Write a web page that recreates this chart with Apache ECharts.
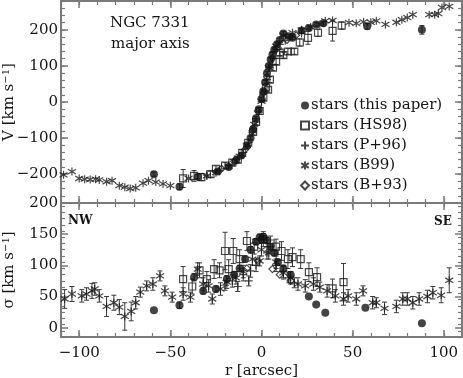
<!DOCTYPE html>
<html>
<head>
<meta charset="utf-8">
<script src="https://cdn.jsdelivr.net/npm/echarts@6/dist/echarts.min.js"></script>
<style>
  html, body { margin: 0; padding: 0; background: #fff; }
  #chart { width: 463px; height: 378px; }
</style>
</head>
<body>
<div id="chart"></div>
<script>
// each point: [r (arcsec), value (km/s), error (km/s)]
const thisPaperV = [
  [-59, -200, 6], [-45, -235, 8], [-35, -207, 6], [-24, -193, 6], [-18, -180, 5], [-14, -162, 5],
  [-11, -148, 5], [-8, -122, 5], [-6, -100, 5], [-4.5, -75, 5], [-3, -45, 5], [-1.5, -20, 5],
  [0, 8, 5], [1, 30, 5], [2, 55, 5], [3, 80, 5], [4, 100, 5], [5, 118, 5], [6, 132, 5],
  [7, 145, 5], [8.5, 160, 5], [10, 172, 5], [12, 190, 5], [15, 182, 5], [17, 178, 5],
  [22, 198, 5], [26, 205, 5], [30, 215, 5], [34, 218, 5], [58, 210, 8], [88, 200, 12]
];
const hs98V = [
  [-43, -212, 25], [-37, -205, 15], [-33, -208, 10], [-28, -200, 8], [-25, -185, 8], [-20, -176, 8],
  [-16, -168, 8], [-13, -160, 8], [-10.6, -141, 8], [-7.3, -113, 8], [-4.6, -83, 8], [-3, -55, 8],
  [-1, -25, 8], [1, 12, 8], [2.5, 40, 8], [3.6, 34, 8], [4.6, 62, 8], [6.3, 95, 8], [8, 112, 8],
  [10, 137, 8], [12, 130, 8], [14.5, 140, 8], [18, 140, 8], [21, 165, 10], [25.5, 178, 18],
  [31, 192, 10], [39, 197, 28], [44, 212, 10]
];
const p96V = [
  [-30, -203, 0], [-23, -190, 0], [-18, -176, 0], [-14, -160, 0], [-10, -140, 0], [-7, -112, 0],
  [-5, -85, 0], [-3, -55, 0], [-1.5, -28, 0], [0, 0, 0], [1.5, 30, 0], [3, 62, 0], [4.5, 95, 0],
  [6, 120, 0], [8, 145, 0], [10, 160, 0], [13, 170, 0], [17, 180, 0], [22, 190, 0]
];
const b99V = [
  [-108.6, -202, 0], [-104, -193, 0], [-100, -212, 0], [-97, -214, 0], [-94, -215, 0], [-91, -214, 0],
  [-89, -216, 0], [-85, -221, 0], [-82, -218, 0], [-78, -232, 0], [-75, -236, 0], [-72, -240, 0],
  [-69, -238, 0], [-65, -225, 0], [-62, -218, 0], [-58, -222, 0], [-54, -227, 0], [-50, -232, 0],
  [-40, -212, 0], [-30, -205, 0], [-25, -196, 0], [-18, -178, 0], [-12, -150, 0], [-8, -120, 0],
  [-4, -62, 0], [0, 2, 0], [4, 95, 0], [8, 155, 0], [12, 185, 0], [17, 192, 0], [22, 200, 0],
  [27, 208, 0], [32, 215, 0], [35, 225, 0], [39, 226, 0], [48, 220, 0], [52, 218, 0], [56, 222, 0],
  [60, 221, 0], [63, 225, 0], [68, 215, 0], [74, 221, 0], [77, 228, 0], [80, 234, 0], [83, 242, 0],
  [92, 242, 0], [95, 242, 0], [97, 245, 0], [99, 262, 0], [103, 265, 0]
];
const b93V = [
  [-22, -185, 0], [-15, -165, 0], [-9, -132, 0], [-5, -80, 0], [-2, -25, 0], [1, 25, 0],
  [3, 70, 0], [6, 122, 0], [9, 150, 0], [14, 172, 0], [19, 185, 0]
];

const thisPaperS = [
  [-59, 28, 0], [-45, 36, 5], [-37, 81, 6], [-32, 59, 5], [-25, 62, 5], [-19, 78, 5], [-15, 85, 5],
  [-12, 95, 5], [-9, 110, 5], [-6, 125, 5], [-3, 138, 5], [-1, 145, 5], [0, 142, 5], [1, 146, 5],
  [3, 140, 5], [5, 130, 5], [7, 120, 5], [9, 105, 5], [12, 95, 5], [16, 85, 5], [26, 50, 0],
  [30, 37, 0], [35, 24, 0], [57, 32, 0], [88, 7, 0]
];
const hs98S = [
  [-43, 78, 20], [-38, 66, 12], [-34, 92, 12], [-30, 78, 12], [-26, 94, 15], [-23, 92, 12],
  [-20, 123, 30], [-18, 94, 15], [-15.5, 123, 20], [-12, 110, 15], [-8, 139, 15], [-4, 130, 12],
  [1, 142, 12], [5, 135, 12], [8, 130, 12], [11, 123, 15], [14.5, 110, 15], [17, 113, 15],
  [21.5, 110, 15], [26, 89, 15], [30.5, 81, 15], [39, 63, 15], [45, 73, 30]
];
const p96S = [
  [-20, 68, 8], [-16, 75, 10], [-13, 66, 8], [-10, 85, 10], [-7, 75, 8], [-6, 91, 10],
  [-3, 100, 10], [3, 120, 10], [8, 100, 10], [12, 90, 10], [15, 80, 8], [18, 72, 8]
];
const b99S = [
  [-108, 46, 15], [-104, 54, 12], [-98.6, 51, 10], [-96, 54, 10], [-93, 59, 12], [-91.5, 62, 10],
  [-89, 51, 10], [-85, 34, 16], [-81, 40, 12], [-78, 33, 12], [-75, 18, 22], [-71.5, 26, 15],
  [-69, 40, 10], [-66.5, 57, 8], [-63, 67, 8], [-59.6, 70, 10], [-55.7, 83, 8], [-53, 59, 8],
  [-49, 49, 8], [-43, 54, 10], [-39, 49, 8], [-35, 94, 10], [-32, 70, 10], [-29, 67, 10],
  [-27, 46, 8], [-22.5, 62, 10], [-19, 73, 10], [-14, 80, 10], [-10, 90, 10], [-5, 110, 10],
  [-1, 107, 8], [0, 125, 10], [4, 120, 10], [8, 105, 10], [12, 88, 10], [16, 80, 10], [20, 70, 10],
  [24, 67, 10], [28.5, 70, 10], [32, 65, 8], [36, 59, 10], [40.5, 51, 10], [45, 46, 10],
  [47.5, 51, 10], [52, 46, 10], [55.7, 59, 8], [61, 40, 10], [63, 40, 8], [67.5, 31, 10],
  [74, 34, 10], [77.5, 46, 10], [80, 46, 10], [83, 40, 10], [86.5, 46, 10], [91, 50, 10],
  [94, 56, 10], [98.6, 52, 12], [103, 76, 20]
];
const b93S = [[-8, 95, 0], [-2, 107, 0], [6, 94, 0], [10, 85, 0], [16, 75, 0]];

const rTicks = [-100, -50, 0, 50, 100];
const vTicks = [-200, -100, 0, 100, 200];
const sTicks = [0, 50, 100, 150, 200];

const FRAME = '#7a7a7a';
const INK = '#151515';
const FONT = 'DejaVu Serif';

function steps(a, b, d) {
  const out = [];
  for (let v = a; v <= b + 1e-9; v += d) out.push(v);
  return out;
}
const minus = v => String(v).replace('-', '\u2212');

function xAxes(grid, labels) {
  const base = { type: 'value', gridIndex: grid, min: -110, max: 110, splitLine: { show: false } };
  const axes = [];
  ['bottom', 'top'].forEach(pos => {
    axes.push(Object.assign({}, base, {
      position: pos,
      axisLine: { show: true, onZero: false, lineStyle: { color: FRAME, width: 2 } },
      axisTick: { inside: true, length: 7, customValues: rTicks, lineStyle: { color: FRAME, width: 1.5 } },
      axisLabel: (labels && pos === 'bottom')
        ? { customValues: rTicks, margin: 9, color: INK, fontFamily: FONT, fontSize: 15, formatter: minus }
        : { show: false },
      name: (labels && pos === 'bottom') ? 'r [arcsec]' : '',
      nameLocation: 'middle', nameGap: 27, nameMoveOverlap: false,
      nameTextStyle: { color: INK, fontFamily: FONT, fontSize: 15 }
    }));
    axes.push(Object.assign({}, base, {
      position: pos,
      axisLine: { show: false, onZero: false },
      axisTick: { inside: true, length: 4, customValues: steps(-110, 110, 10), lineStyle: { color: FRAME, width: 1.2 } },
      axisLabel: { show: false }
    }));
  });
  return axes;
}

function yAxes(grid, min, max, major, minorStep, title) {
  const base = { type: 'value', gridIndex: grid, min: min, max: max, splitLine: { show: false } };
  const axes = [];
  ['left', 'right'].forEach(pos => {
    axes.push(Object.assign({}, base, {
      position: pos,
      axisLine: { show: true, onZero: false, lineStyle: { color: FRAME, width: 2 } },
      axisTick: { inside: true, length: 7, customValues: major, lineStyle: { color: FRAME, width: 1.5 } },
      axisLabel: pos === 'left'
        ? { customValues: major, margin: 3, color: INK, fontFamily: FONT, fontSize: 15, formatter: minus }
        : { show: false },
      name: pos === 'left' ? title : '',
      nameLocation: 'middle', nameRotate: 90, nameGap: 43, nameMoveOverlap: false,
      nameTextStyle: {
        color: INK, fontFamily: FONT, fontSize: 15,
        rich: { sup: { fontFamily: FONT, fontSize: 10, color: INK, padding: [0, 0, 7, 0] } }
      }
    }));
    axes.push(Object.assign({}, base, {
      position: pos,
      axisLine: { show: false, onZero: false },
      axisTick: { inside: true, length: 4, customValues: steps(min, max, minorStep), lineStyle: { color: FRAME, width: 1.2 } },
      axisLabel: { show: false }
    }));
  });
  return axes;
}

function errBar(params, api) {
  const x = api.value(0), y = api.value(1), e = api.value(2);
  const lo = api.coord([x, y - e]);
  const hi = api.coord([x, y + e]);
  const w = 2.5;
  const s = { stroke: '#3a3a3a', lineWidth: 1 };
  return {
    type: 'group',
    children: [
      { type: 'line', shape: { x1: lo[0], y1: lo[1], x2: hi[0], y2: hi[1] }, style: s },
      { type: 'line', shape: { x1: lo[0] - w, y1: lo[1], x2: lo[0] + w, y2: lo[1] }, style: s },
      { type: 'line', shape: { x1: hi[0] - w, y1: hi[1], x2: hi[0] + w, y2: hi[1] }, style: s }
    ]
  };
}

const PLUS = 'path://M0,-1L0,1M-1,0L1,0';
const STAR = 'path://M0,-1L0,1M-0.95,-0.6L0.95,0.6M-0.95,0.6L0.95,-0.6';

const kinds = [
  { name: 'stars (this paper)', top: thisPaperV, bot: thisPaperS, symbol: 'circle', size: 8,
    style: { color: INK } },
  { name: 'stars (HS98)', top: hs98V, bot: hs98S, symbol: 'rect', size: 7,
    style: { color: 'rgba(0,0,0,0)', borderColor: '#1a1a1a', borderWidth: 1.2 } },
  { name: 'stars (P+96)', top: p96V, bot: p96S, symbol: PLUS, size: 8,
    style: { color: 'rgba(0,0,0,0)', borderColor: '#1a1a1a', borderWidth: 1.2 } },
  { name: 'stars (B99)', top: b99V, bot: b99S, symbol: STAR, size: 8,
    style: { color: 'rgba(0,0,0,0)', borderColor: '#1a1a1a', borderWidth: 1.2 } },
  { name: 'stars (B+93)', top: b93V, bot: b93S, symbol: 'diamond', size: 7,
    style: { color: 'rgba(0,0,0,0)', borderColor: '#1a1a1a', borderWidth: 1.2 } }
];

// x axes: grid0 -> 0..3, grid1 -> 4..7 ; y axes: grid0 -> 0..3, grid1 -> 4..7
const series = [];
const drawOrder = [3, 1, 2, 4, 0];
[['top', 0], ['bot', 4]].forEach(([key, ax]) => {
  drawOrder.forEach(i => {
    const k = kinds[i];
    series.push({
      type: 'custom', name: 'err', xAxisIndex: ax, yAxisIndex: ax, clip: true, silent: true,
      renderItem: errBar, encode: { x: 0, y: 1 },
      data: k[key].filter(d => d[2] > 0)
    });
  });
  drawOrder.forEach(i => {
    const k = kinds[i];
    series.push({
      type: 'scatter', name: k.name, xAxisIndex: ax, yAxisIndex: ax, clip: true,
      symbol: k.symbol, symbolSize: k.size, itemStyle: k.style,
      data: k[key].map(d => [d[0], d[1]])
    });
  });
});

const chart = echarts.init(document.getElementById('chart'), null, { renderer: 'canvas' });
chart.setOption({
  animation: false,
  backgroundColor: '#fff',
  grid: [
    { left: 61, top: 1, width: 401, height: 202, outerBoundsMode: 'none', containLabel: false },
    { left: 61, top: 203, width: 401, height: 134, outerBoundsMode: 'none', containLabel: false }
  ],
  xAxis: xAxes(0, false).concat(xAxes(1, true)),
  yAxis: yAxes(0, -280, 280, vTicks, 20, 'V [km s{sup|\u22121}]')
    .concat(yAxes(1, -15, 200, sTicks, 10, '\u03c3 [km s{sup|\u22121}]')),
  legend: {
    orient: 'vertical', left: 295, top: 93, itemWidth: 8, itemHeight: 8, itemGap: 5,
    selectedMode: false,
    textStyle: { fontFamily: FONT, fontSize: 15, color: INK, padding: [0, 0, 0, -3] },
    data: kinds.map(k => k.name)
  },
  graphic: [
    { type: 'text', left: 110, top: 16, style: { text: 'NGC 7331', fontFamily: FONT, fontSize: 15, fill: INK } },
    { type: 'text', left: 111, top: 37, style: { text: 'major axis', fontFamily: FONT, fontSize: 15, fill: INK } },
    { type: 'text', left: 68, top: 215, style: { text: 'NW', fontFamily: FONT, fontSize: 12, fontWeight: 'bold', fill: INK } },
    { type: 'text', left: 434, top: 216, style: { text: 'SE', fontFamily: FONT, fontSize: 12, fontWeight: 'bold', fill: INK } }
  ],
  series: series
});
</script>
</body>
</html>
